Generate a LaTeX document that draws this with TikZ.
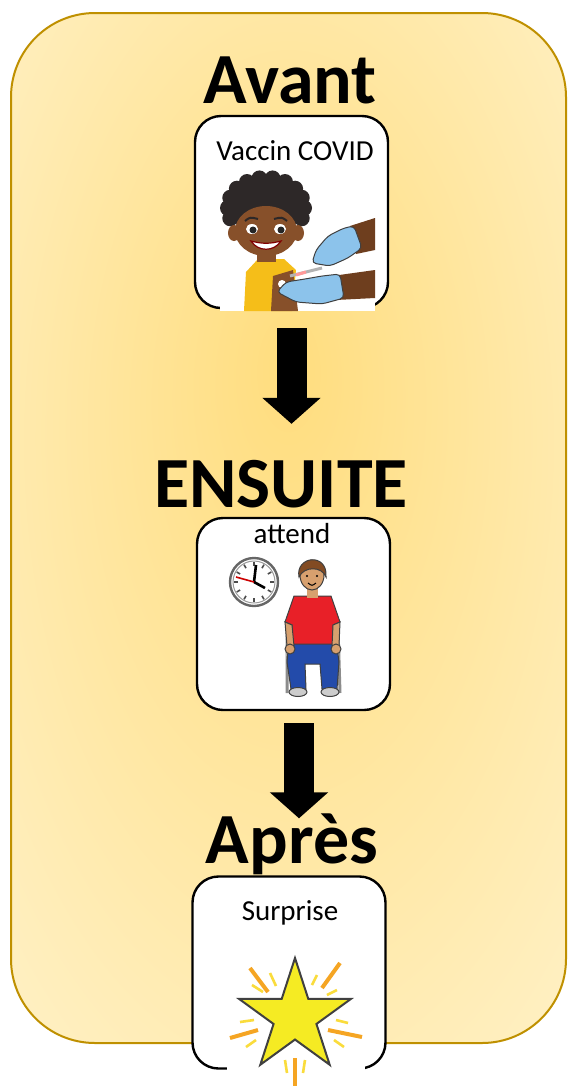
\documentclass[tikz,border=0pt]{standalone}
\usepackage{fontspec}
\setmainfont{Carlito}
\usetikzlibrary{arrows.meta,shapes.geometric,positioning,calc}
\definecolor{panelgold}{RGB}{191,144,0}
\definecolor{glowin}{RGB}{255,221,126}
\definecolor{glowout}{RGB}{255,243,206}
\definecolor{kidskin}{RGB}{135,80,42}
\definecolor{nurseskin}{RGB}{110,62,30}
\definecolor{kidhair}{RGB}{45,40,40}
\definecolor{shirtyellow}{RGB}{245,190,25}
\definecolor{glove}{RGB}{140,195,235}
\definecolor{boyskin}{RGB}{215,160,110}
\definecolor{boyhair}{RGB}{130,75,35}
\definecolor{shirtred}{RGB}{232,32,40}
\definecolor{jeans}{RGB}{35,75,170}
\definecolor{staryellow}{RGB}{245,235,35}
\definecolor{rayorange}{RGB}{245,165,35}
\definecolor{rayyellow}{RGB}{250,220,60}
\pgfdeclareradialshading{panelglow}{\pgfpoint{0bp}{8bp}}{color(0bp)=(glowin); color(42bp)=(glowout); color(50bp)=(glowout)}

\begin{document}
\begin{tikzpicture}[x=0.5pt,y=-0.5pt,
  card/.style={draw,line width=1.2pt,rounded corners=13pt,fill=white,minimum width=96.5pt,minimum height=96pt,inner sep=0pt},
  heading/.style={font=\fontsize{36}{36}\selectfont\bfseries,anchor=base,inner sep=0pt},
  caption/.style={font=\fontsize{14.5}{14.5}\selectfont,anchor=base,inner sep=0pt},
  blockarrow/.style={line width=15pt,-{Triangle[width=28.5pt,length=13pt]}},
  outline/.style={draw=black!75,line width=0.5pt}]
\useasboundingbox (0,0) rectangle (576,1087);
\path[shading=panelglow,draw=panelgold,line width=1pt,rounded corners=42pt] (11,13) rectangle (566,1043);

\node[heading] (avant) at (290,103) {Avant};
\node[card] (vaccin) at (291.5,212) {};
\node[caption] (vaccintext) at (295,160) {Vaccin COVID};
\fill[white] (220,165) rectangle (375,311);
\fill[nurseskin] (350,226) -- (375,218) -- (375,250) -- (356,254) -- cycle;
\fill[nurseskin] (332,276) -- (375,270) -- (375,298) -- (336,300) -- cycle;
\fill[shirtyellow] (244,311) -- (246,272) -- (258,259) -- (284,259) -- (296,270) -- (292,311) -- cycle;
\fill[kidskin] (273,276) -- (293,270) -- (298,311) -- (271,311) -- cycle;
\fill[white] (282,284) circle (4);
\fill[kidskin] (257,245) rectangle (276,262);
\fill[kidhair] (266,205) ellipse (38 and 30);
\foreach \a in {-200,-180,...,20}
  \fill[kidhair] ($(266,208)+(\a:38 and 30)$) circle (8);
\fill[kidskin] (234,233) ellipse (6 and 8);
\fill[kidskin] (298,233) ellipse (6 and 8);
\fill[kidskin] (266,231) ellipse (31 and 25);
\fill[white] (252,229) ellipse (6 and 5);
\fill[white] (280,229) ellipse (6 and 5);
\fill[black!85] (253,230) circle (3.5);
\fill[black!85] (281,230) circle (3.5);
\draw[kidhair,line width=1pt] (245,221) .. controls (250,217) .. (258,219);
\draw[kidhair,line width=1pt] (274,219) .. controls (282,217) .. (287,221);
\filldraw[fill=white,draw=red!50!black,line width=0.6pt] (251,241) .. controls (258,252) and (274,252) .. (281,241) .. controls (270,244) and (262,244) .. cycle;
\draw[line width=1.5pt,black!30] (290,276) -- (322,268);
\draw[line width=1.5pt,red!40] (296,275) -- (306,272);
\filldraw[fill=glove,outline,rounded corners=2pt] (312,263) -- (316,250) -- (328,236) -- (344,228) -- (354,226) -- (362,248) -- (348,258) -- (330,266) -- cycle;
\filldraw[fill=glove,outline,rounded corners=2pt] (277,292) -- (286,282) -- (305,279) -- (322,276) -- (340,274) -- (344,298) -- (322,304) -- (296,302) -- cycle;

\node[heading] (ensuite) at (281,507) {ENSUITE};
\node[card] (attend) at (293.5,614) {};
\node[caption] (attendtext) at (292,543) {attend};
\filldraw[fill=white,draw=black!60,line width=1.2pt] (254,582) circle (24);
\draw[black!40,line width=0.5pt] (254,582) circle (21);
\foreach \a in {0,30,...,330}
  \draw[black!70,line width=0.8pt] ($(254,582)+(\a:16)$) -- ($(254,582)+(\a:20)$);
\draw[black,line width=1.3pt] (254,582) -- (256,565);
\draw[black,line width=1.3pt] (254,582) -- (265,588);
\draw[red!80!black,line width=0.8pt] (254,582) -- (236,577);
\draw[black!45,line width=1.5pt] (287,628) -- (287,693) (338,628) -- (340,693);
\draw[black!45,line width=1.5pt] (294,655) -- (292,690) (331,655) -- (334,690);
\fill[black!35] (286,648) rectangle (339,656);
\filldraw[fill=jeans,outline] (289,640) -- (336,640) -- (339,662) -- (337,689) -- (322,689) -- (320,664) -- (305,664) -- (306,689) -- (291,689) -- (287,662) -- cycle;
\filldraw[fill=black!20,outline] (298,692) ellipse (9 and 4.5);
\filldraw[fill=black!20,outline] (330,692) ellipse (9 and 4.5);
\filldraw[fill=shirtred,outline] (294,596) -- (331,596) -- (340,622) -- (333,625) -- (333,644) -- (292,644) -- (292,625) -- (285,622) -- cycle;
\filldraw[fill=boyskin,outline] (285,622) -- (292,625) -- (294,646) -- (287,646) -- cycle;
\filldraw[fill=boyskin,outline] (340,622) -- (333,625) -- (332,646) -- (339,646) -- cycle;
\filldraw[fill=boyskin,outline] (290,649) circle (5);
\filldraw[fill=boyskin,outline] (336,649) circle (5);
\fill[boyskin] (307,586) rectangle (318,598);
\filldraw[fill=boyskin,outline] (312,575) ellipse (12 and 15);
\filldraw[fill=boyhair,outline] (299,577) .. controls (295,556) and (328,552) .. (326,577) .. controls (322,566) and (304,566) .. cycle;
\fill (307,576) circle (1.2);
\fill (317,576) circle (1.2);
\draw[line width=0.5pt] (308,583) .. controls (312,586) .. (316,583);

\node[card] (surprise) at (289,972.5) {};
\node[caption] (surprisetext) at (290,920) {Surprise};
\fill[white] (227,950) rectangle (365,1087);
\foreach \xa/\ya/\xb/\yb in {250/968/268/992,340/963/322/988,230/1038/258/1030,362/1037/328/1030,295/1058/295/1086}
  \draw[rayorange,line width=2pt] (\xa,\ya) -- (\xb,\yb);
\foreach \xa/\ya/\xb/\yb in {252/985/263/992,270/973/276/986,317/975/312/985,337/990/327/995,240/1022/254/1020,348/1023/336/1020,246/1047/256/1040,344/1047/334/1040,285/1060/287/1073,305/1060/303/1073}
  \draw[rayyellow,line width=1.3pt] (\xa,\ya) -- (\xb,\yb);
\node[star,star points=5,star point ratio=2.618,minimum size=59pt,inner sep=0pt,fill=staryellow,draw=black!75,line width=1pt] (bigstar) at (295,1017) {};
\node[heading] (apres) at (292,863) {Après};

\draw[blockarrow,shorten <=9.5pt,shorten >=46.5pt] (vaccin.south) -- (vaccin.south |- attend.north);
\draw[blockarrow,shorten <=6pt,shorten >=28.5pt] ([xshift=2.75pt]attend.south) -- ([xshift=2.75pt]attend.south |- surprise.north);
\end{tikzpicture}
\end{document}
